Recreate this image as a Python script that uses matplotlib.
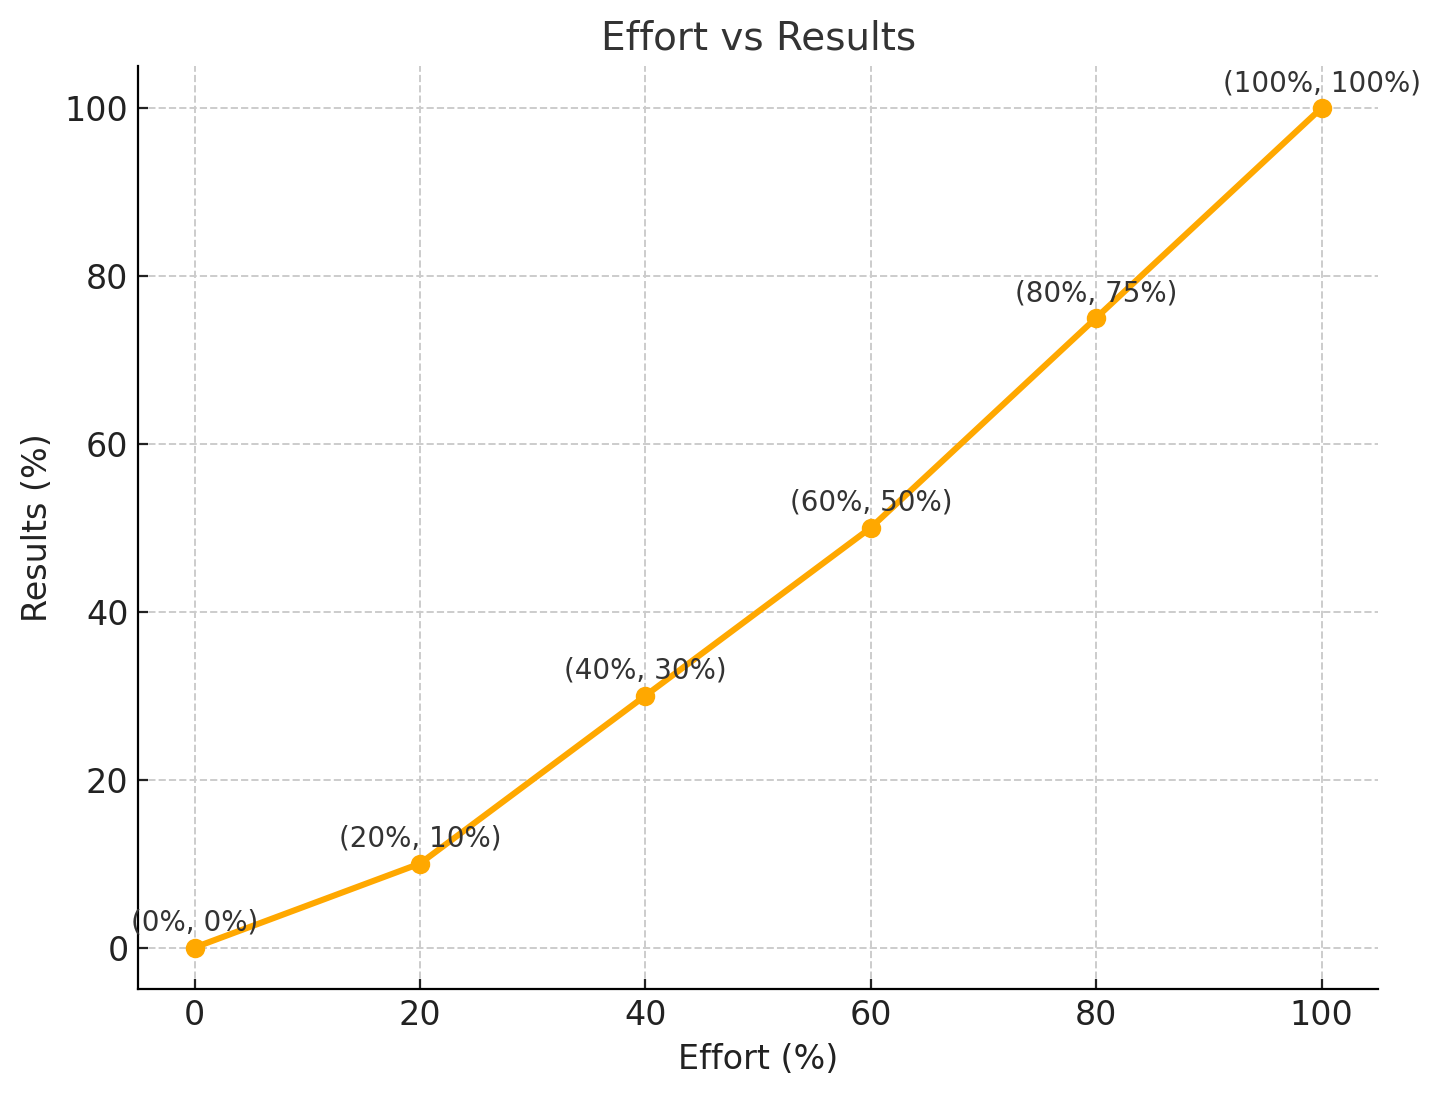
import matplotlib.pyplot as plt

effort = [0, 20, 40, 60, 80, 100]
results = [0, 10, 30, 50, 75, 100]
labels = ['(0%, 0%)', '(20%, 10%)', '(40%, 30%)', '(60%, 50%)', '(80%, 75%)', '(100%, 100%)']

fig, ax = plt.subplots(figsize=(7.2, 5.485), dpi=200)
ax.plot(effort, results, color='#FFA800', marker='o', linewidth=2.2, markersize=6)

for x, y, t in zip(effort, results, labels):
    ax.annotate(t, (x, y), xytext=(0, 6), textcoords='offset points',
                ha='center', fontsize=10, color='#333333')

ax.set_title('Effort vs Results', fontsize=14, color='#333333')
ax.set_xlabel('Effort (%)', fontsize=12, color='#222222')
ax.set_ylabel('Results (%)', fontsize=12, color='#222222')
ax.tick_params(labelsize=12, colors='#222222', direction='in')
ax.grid(True, linestyle='--', color='#cccccc', linewidth=0.7)
ax.spines['top'].set_visible(False)
ax.spines['right'].set_visible(False)
ax.set_xlim(-5, 105)
ax.set_ylim(-5, 105)

fig.subplots_adjust(left=0.096, right=0.957, top=0.94, bottom=0.098)
fig.savefig('out.png', dpi=200)
